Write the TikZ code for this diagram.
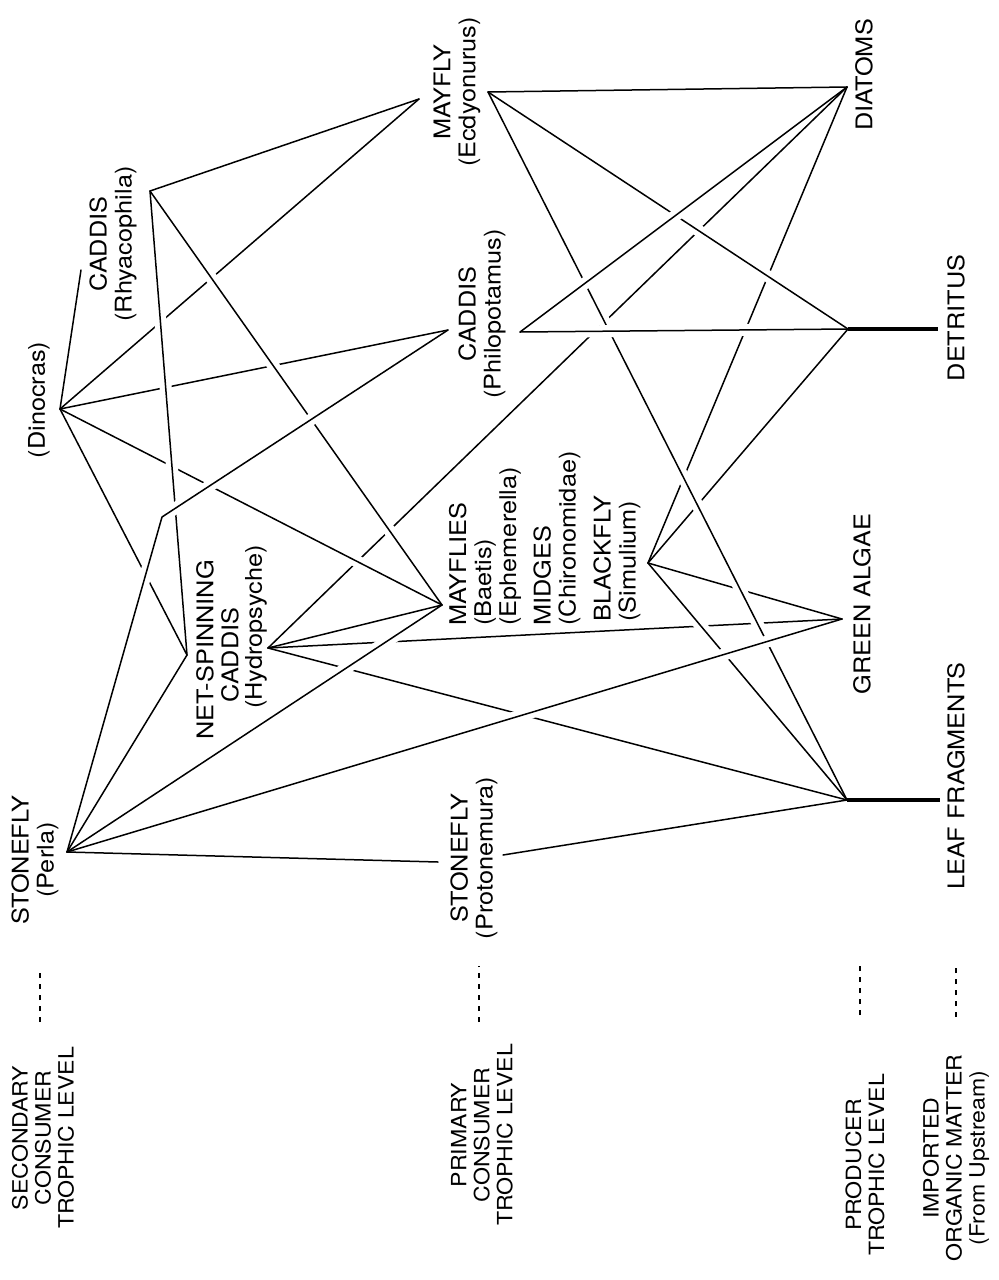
\documentclass[tikz,border=0pt]{standalone}
\usepackage{fontspec}
\newfontfamily\labfont{TeX Gyre Heros}[FakeStretch=1.1]
\begin{document}
\begin{tikzpicture}[x=0.5pt,y=-0.5pt,
  link/.style={line width=0.75pt, line cap=round, line join=round},
  hop/.style={link, preaction={draw=white, line width=6pt, line cap=butt, shorten <=27pt, shorten >=27pt}},
  stub/.style={line width=1.7pt},
  levdash/.style={line width=1.1pt, dash pattern=on 2.5pt off 3pt},
  spec/.style={rotate=90, inner sep=0pt, align=center, font=\labfont\fontsize{11.5}{12.5}\selectfont},
  lvl/.style={rotate=90, inner sep=0pt, align=center, font=\labfont\fontsize{10.5}{11.5}\selectfont}]
\fill[white] (0,0) rectangle (998,1280);
\useasboundingbox (0,0) rectangle (998,1280);

% feeding points
\coordinate (P) at (67,852);
\coordinate (D) at (60,409);
\coordinate (R) at (150,191);
\coordinate (Rlab) at (81,270);
\coordinate (Ein) at (419,99);
\coordinate (Eout) at (488,92);
\coordinate (Phin) at (448,330);
\coordinate (Phout) at (520,332);
\coordinate (Hyin) at (187,655);
\coordinate (Hyout) at (268,648);
\coordinate (Min) at (442,605);
\coordinate (Gout) at (648,563);
\coordinate (Prin) at (438,862);
\coordinate (Prout) at (503,855);
\coordinate (K) at (162,517);
\coordinate (DI) at (847,87);
\coordinate (DT) at (848,329);
\coordinate (GA) at (842,619);
\coordinate (LF) at (847,800);
\coordinate (DTe) at (938,329);
\coordinate (LFe) at (940,800);

% bottom layer
\draw[hop] (Hyout) -- (DI);
\draw[hop] (Hyout) -- (GA);
\draw[hop] (Hyout) -- (LF);
\draw[hop] (Gout) -- (DI);
\draw[hop] (Gout) -- (DT);
\draw[hop] (Gout) -- (GA);
\draw[hop] (D) -- (Ein);
\draw[hop] (D) -- (Phin);
\draw[hop] (D) -- (Hyin);
% layer 1
\draw[hop] (D) -- (Min);
\draw[hop] (Eout) -- (DT);
\draw[hop] (Gout) -- (LF);
% layer 2
\draw[hop] (R) -- (Hyin);
\draw[hop] (R) -- (Min);
\draw[hop] (Eout) -- (LF);
% top layer
\draw[hop] (P) -- (K) -- (Phin);
\draw[hop] (Phout) -- (DI);
\draw[hop] (Phout) -- (DT);
\draw[hop] (P) -- (GA);
\draw[hop] (P) -- (Min);
% links without crossings
\draw[link] (R) -- (Ein);
\draw[link] (P) -- (Prin);
\draw[link] (P) -- (Hyin);
\draw[link] (Hyout) -- (Min);
\draw[link] (Prout) -- (LF);
\draw[link] (D) -- (Rlab);
\draw[link] (Eout) -- (DI);
\draw[stub] (DT) -- (DTe);
\draw[stub] (LF) -- (LFe);

% level markers
\coordinate (m1a) at (40,1022); \coordinate (m1b) at (40,970);
\coordinate (m2a) at (479,1022); \coordinate (m2b) at (479,966);
\coordinate (m3a) at (860,1015); \coordinate (m3b) at (860,962);
\coordinate (m4a) at (956,1017); \coordinate (m4b) at (956,965);
\draw[levdash] (m1a) -- (m1b);
\draw[levdash] (m2a) -- (m2b);
\draw[levdash] (m3a) -- (m3b);
\draw[levdash] (m4a) -- (m4b);

% species labels
\node[spec] (perla) at (35,860) {STONEFLY\\(Perla)};
\node[spec] (proto) at (474,858) {STONEFLY\\(Protonemura)};
\node[spec] (dino) at (39,400) {(Dinocras)};
\node[spec] (rhya) at (113,244) {CADDIS\\(Rhyacophila)};
\node[spec] (ecdy) at (457,92) {MAYFLY\\(Ecdyonurus)};
\node[spec] (philo) at (482,314) {CADDIS\\(Philopotamus)};
\node[spec] (hyd1) at (205,650) {NET-SPINNING};
\node[spec] (hyd2) at (230,655) {CADDIS};
\node[spec] (hyd3) at (256,627) {(Hydropsyche)};
\node[spec, anchor=west, align=left] (mayf) at (485,626) {MAYFLIES\\(Baetis)\\(Ephemerella)};
\node[spec, anchor=west, align=left] (midg) at (557,626) {MIDGES\\(Chironomidae)};
\node[spec, anchor=west, align=left] (black) at (617,622) {BLACKFLY\\(Simulium)};
\node[spec] (diat) at (864,75) {DIATOMS};
\node[spec] (detr) at (956,318) {DETRITUS};
\node[spec] (galg) at (862,604) {GREEN ALGAE};
\node[spec] (leaf) at (956,776) {LEAF FRAGMENTS};

% level labels
\node[lvl] (lsec) at (43,1138) {SECONDARY\\CONSUMER\\TROPHIC LEVEL};
\node[lvl] (lpri) at (482,1135) {PRIMARY\\CONSUMER\\TROPHIC LEVEL};
\node[lvl] (lpro) at (865,1165) {PRODUCER\\TROPHIC LEVEL};
\node[lvl] (limp) at (956,1158) {IMPORTED\\ORGANIC MATTER\\(From Upstream)};
\end{tikzpicture}
\end{document}
